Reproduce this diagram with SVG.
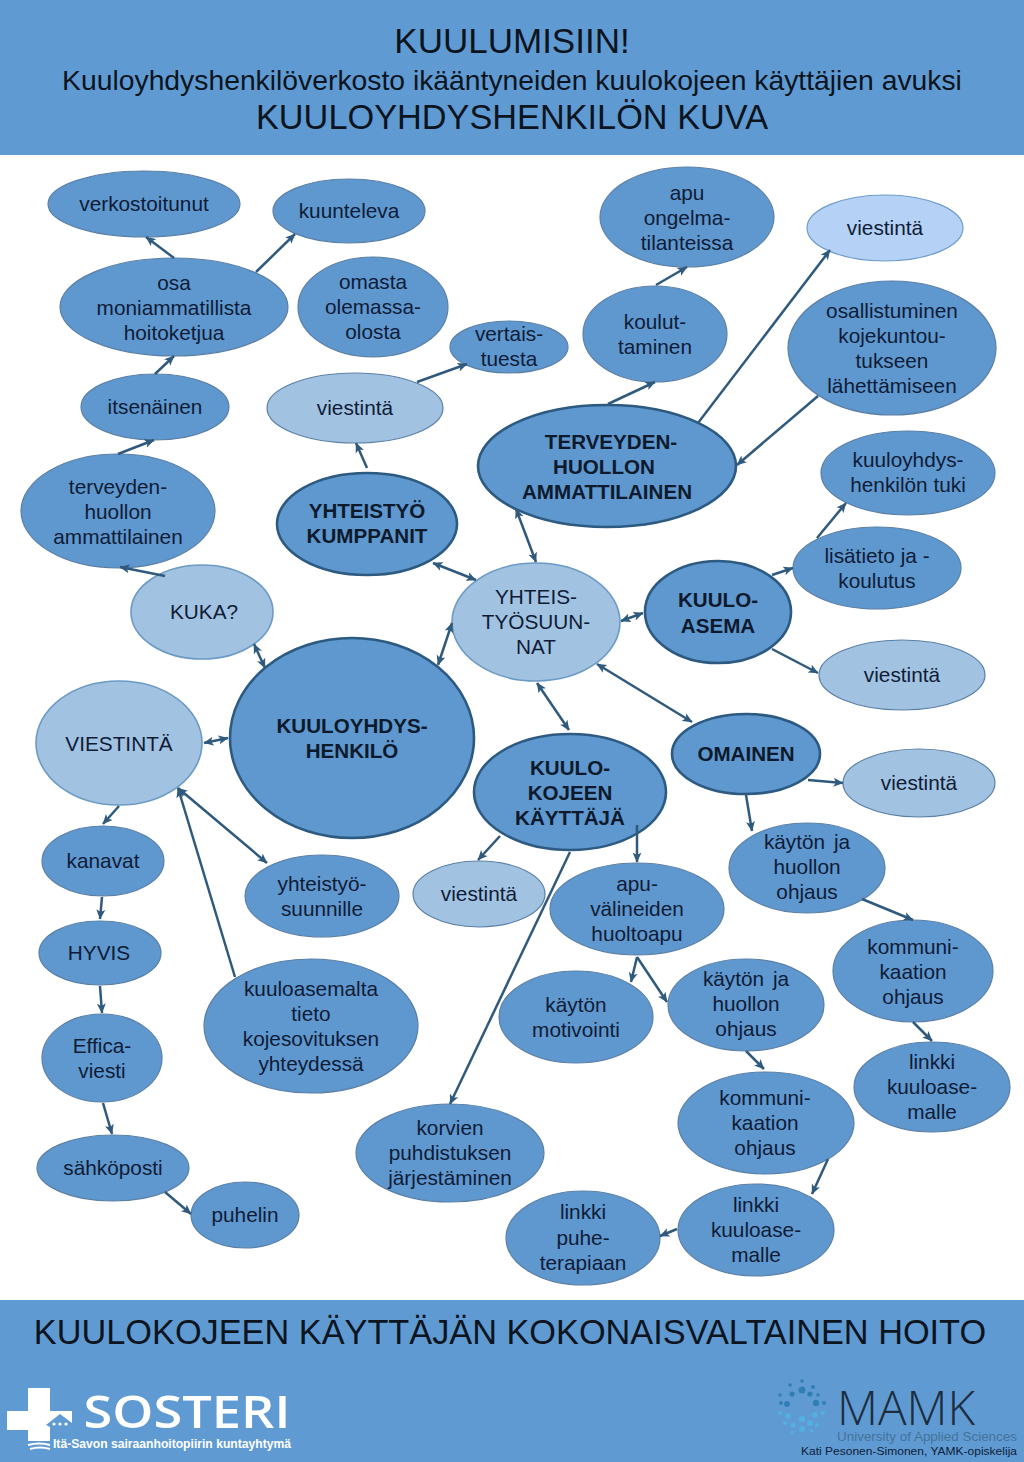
<svg xmlns="http://www.w3.org/2000/svg" width="1024" height="1462" viewBox="0 0 1024 1462">
<style>
text{font-family:"Liberation Sans",Arial,sans-serif;fill:#0e1c36;text-anchor:middle}
.t{font-size:20.8px}
.w{word-spacing:3px}
.b{font-size:20.6px;font-weight:bold;fill:#0c1a2c}
.band{fill:#5f9bd2}
.n{fill:#5f97cf;stroke:#5b80a6;stroke-width:1.2}
.d{fill:#5f97cf;stroke:#2c5a80;stroke-width:2.6}
.l{fill:#a2c2e2;stroke:#6b9ac4;stroke-width:1.6}
.v{fill:#a2c2e2;stroke:#5b80a6;stroke-width:1.2}
.l2{fill:#b6d1f6;stroke:#6b9cc8;stroke-width:1.2}
#connectors line{stroke:#2f5a7e;stroke-width:2.5;marker-end:url(#a)}
#connectors line.x{marker-start:url(#a)}
.top{fill:#0c1420}
</style>
<defs><marker id="a" viewBox="0 0 10 10" refX="9.5" refY="5" markerWidth="4" markerHeight="4" orient="auto-start-reverse" markerUnits="strokeWidth"><path d="M0 0.5L10 5L0 9.5L2.5 5z" fill="#2f5a7e"/></marker></defs>
<rect width="1024" height="1462" fill="#fff"/>
<g id="header"><rect class="band" width="1024" height="155"/>
<text class="top" x="512" y="53" font-size="35">KUULUMISIIN!</text>
<text class="top" x="512" y="90" font-size="28.3">Kuuloyhdyshenkilöverkosto ikääntyneiden kuulokojeen käyttäjien avuksi</text>
<text class="top" x="512" y="129" font-size="34.3">KUULOYHDYSHENKILÖN KUVA</text></g>
<g id="footer"><rect class="band" y="1300" width="1024" height="162"/>
<text class="top" x="510" y="1344" font-size="34.3">KUULOKOJEEN KÄYTTÄJÄN KOKONAISVALTAINEN HOITO</text>
<path d="M28 1388H50V1411H72V1430H50V1441H28V1430H7V1411H28z" fill="#fff"/>
<path d="M46 1425L60 1414L72 1423V1430H50V1427z" fill="#5f9bd2"/>
<g fill="#fff"><circle cx="54" cy="1424" r="1.6"/><circle cx="60" cy="1424" r="1.6"/><circle cx="66" cy="1424" r="1.6"/></g>
<path d="M28 1445q11 -3 22 0M30 1449q10 -3 20 0" fill="none" stroke="#fff" stroke-width="2"/>
<text x="187" y="1428" font-size="46" font-weight="600" style="font-family:'Open Sans',sans-serif;fill:#fff" textLength="207" lengthAdjust="spacingAndGlyphs">SOSTERI</text>
<text x="172" y="1448" font-size="12.5" font-weight="bold" style="fill:#fff" textLength="238" lengthAdjust="spacingAndGlyphs">Itä-Savon sairaanhoitopiirin kuntayhtymä</text>
<g fill="#2f7fb5"><circle cx="802" cy="1381" r="1.8"/><circle cx="790" cy="1385" r="1.8"/><circle cx="813" cy="1387" r="2"/><circle cx="802" cy="1390" r="3.5"/><circle cx="792" cy="1394" r="2.6"/><circle cx="810" cy="1394" r="2.6"/><circle cx="780" cy="1395" r="1.8"/><circle cx="818" cy="1395" r="1.8"/><circle cx="781" cy="1403" r="2"/><circle cx="787" cy="1404" r="3"/><circle cx="816" cy="1403" r="3.2"/><circle cx="824" cy="1403" r="2"/></g>
<g fill="#52b0e2"><circle cx="780" cy="1413" r="2"/><circle cx="788" cy="1416" r="2.8"/><circle cx="815" cy="1415" r="2.8"/><circle cx="823" cy="1413" r="2"/><circle cx="802" cy="1419" r="3.2"/><circle cx="785" cy="1423" r="2"/><circle cx="793" cy="1425" r="2.6"/><circle cx="810" cy="1423" r="3"/><circle cx="817" cy="1425" r="2"/><circle cx="802" cy="1429" r="3"/><circle cx="792" cy="1432" r="1.6"/><circle cx="812" cy="1431" r="1.6"/></g>
<text x="906" y="1425" font-size="47" font-weight="300" style="font-family:'Open Sans',sans-serif;fill:#1d2d40" textLength="138" lengthAdjust="spacingAndGlyphs">MAMK</text>
<text x="927" y="1441" font-size="13.5" style="fill:#44729c" textLength="180" lengthAdjust="spacingAndGlyphs">University of Applied Sciences</text>
<text x="909" y="1455" font-size="11.5" textLength="216" lengthAdjust="spacingAndGlyphs">Kati Pesonen-Simonen, YAMK-opiskelija</text></g>
<g id="n1"><ellipse class="n" cx="144" cy="204" rx="96" ry="33"/><text class="t" x="144" y="211">verkostoitunut</text></g>
<g id="n2"><ellipse class="n" cx="349" cy="211" rx="76" ry="32"/><text class="t" x="349" y="218">kuunteleva</text></g>
<g id="n3"><ellipse class="n" cx="174" cy="307" rx="114" ry="49"/><text class="t" x="174" y="290">osa</text><text class="t" x="174" y="315">moniammatillista</text><text class="t" x="174" y="340">hoitoketjua</text></g>
<g id="n4"><ellipse class="n" cx="373" cy="307" rx="75" ry="50"/><text class="t" x="373" y="289">omasta</text><text class="t" x="373" y="314">olemassa-</text><text class="t" x="373" y="339">olosta</text></g>
<g id="n5"><ellipse class="n" cx="509" cy="347" rx="59" ry="26"/><text class="t" x="509" y="341">vertais-</text><text class="t" x="509" y="366">tuesta</text></g>
<g id="n6"><ellipse class="v" cx="355" cy="408" rx="88" ry="35"/><text class="t" x="355" y="415">viestintä</text></g>
<g id="n7"><ellipse class="n" cx="155" cy="407" rx="74" ry="33"/><text class="t" x="155" y="414">itsenäinen</text></g>
<g id="n8"><ellipse class="n" cx="118" cy="511" rx="97" ry="57"/><text class="t" x="118" y="494">terveyden-</text><text class="t" x="118" y="519">huollon</text><text class="t" x="118" y="544">ammattilainen</text></g>
<g id="n9"><ellipse class="n" cx="687" cy="217" rx="87" ry="50"/><text class="t" x="687" y="200">apu</text><text class="t" x="687" y="225">ongelma-</text><text class="t" x="687" y="250">tilanteissa</text></g>
<g id="n10"><ellipse class="l2" cx="885" cy="228" rx="78" ry="33"/><text class="t" x="885" y="235">viestintä</text></g>
<g id="n11"><ellipse class="n" cx="655" cy="334" rx="72" ry="48"/><text class="t" x="655" y="329">koulut-</text><text class="t" x="655" y="354">taminen</text></g>
<g id="n12"><ellipse class="n" cx="892" cy="348" rx="104" ry="67"/><text class="t" x="892" y="318">osallistuminen</text><text class="t" x="892" y="343">kojekuntou-</text><text class="t" x="892" y="368">tukseen</text><text class="t" x="892" y="393">lähettämiseen</text></g>
<g id="n13"><ellipse class="d" cx="607" cy="466" rx="129" ry="61"/><text class="b" x="611" y="449">TERVEYDEN-</text><text class="b" x="604" y="474">HUOLLON</text><text class="b" x="607" y="499">AMMATTILAINEN</text></g>
<g id="n14"><ellipse class="d" cx="367" cy="524" rx="90" ry="51"/><text class="b" x="367" y="518">YHTEISTYÖ</text><text class="b" x="367" y="543">KUMPPANIT</text></g>
<g id="n15"><ellipse class="n" cx="908" cy="473" rx="87" ry="42"/><text class="t" x="908" y="467">kuuloyhdys-</text><text class="t" x="908" y="492">henkilön tuki</text></g>
<g id="n16"><ellipse class="n" cx="877" cy="568" rx="84" ry="41"/><text class="t" x="877" y="563">lisätieto ja -</text><text class="t" x="877" y="588">koulutus</text></g>
<g id="n17"><ellipse class="l" cx="202" cy="612" rx="71" ry="47"/><text class="t" x="204" y="619">KUKA?</text></g>
<g id="n18"><ellipse class="l" cx="536" cy="622" rx="84" ry="59"/><text class="t" x="536" y="604">YHTEIS-</text><text class="t" x="536" y="629">TYÖSUUN-</text><text class="t" x="536" y="654">NAT</text></g>
<g id="n19"><ellipse class="d" cx="718" cy="612" rx="73" ry="51"/><text class="b" x="718" y="607">KUULO-</text><text class="b" x="718" y="633">ASEMA</text></g>
<g id="n20"><ellipse class="v" cx="902" cy="675" rx="83" ry="35"/><text class="t" x="902" y="682">viestintä</text></g>
<g id="n21"><ellipse class="l" cx="119" cy="743" rx="83" ry="62"/><text class="t" x="119" y="751">VIESTINTÄ</text></g>
<g id="n22"><ellipse class="d" cx="352" cy="738" rx="122" ry="100"/><text class="b" x="352" y="733">KUULOYHDYS-</text><text class="b" x="352" y="758">HENKILÖ</text></g>
<g id="n23"><ellipse class="d" cx="746" cy="754" rx="74" ry="40"/><text class="b" x="746" y="761">OMAINEN</text></g>
<g id="n24"><ellipse class="v" cx="919" cy="783" rx="76" ry="34"/><text class="t" x="919" y="790">viestintä</text></g>
<g id="n25"><ellipse class="d" cx="570" cy="792" rx="96" ry="58"/><text class="b" x="570" y="775">KUULO-</text><text class="b" x="570" y="800">KOJEEN</text><text class="b" x="570" y="825">KÄYTTÄJÄ</text></g>
<g id="n26"><ellipse class="n" cx="103" cy="861" rx="61" ry="35"/><text class="t" x="103" y="868">kanavat</text></g>
<g id="n27"><ellipse class="n" cx="322" cy="896" rx="77" ry="41"/><text class="t" x="322" y="891">yhteistyö-</text><text class="t" x="322" y="916">suunnille</text></g>
<g id="n28"><ellipse class="n" cx="807" cy="868" rx="78" ry="45"/><text class="t w" x="807" y="849">käytön ja</text><text class="t" x="807" y="874">huollon</text><text class="t" x="807" y="899">ohjaus</text></g>
<g id="n29"><ellipse class="v" cx="479" cy="894" rx="66" ry="33"/><text class="t" x="479" y="901">viestintä</text></g>
<g id="n30"><ellipse class="n" cx="637" cy="909" rx="87" ry="46"/><text class="t" x="637" y="891">apu-</text><text class="t" x="637" y="916">välineiden</text><text class="t" x="637" y="941">huoltoapu</text></g>
<g id="n31"><ellipse class="n" cx="100" cy="953" rx="61" ry="32"/><text class="t" x="99" y="960">HYVIS</text></g>
<g id="n32"><ellipse class="n" cx="913" cy="971" rx="80" ry="51"/><text class="t" x="913" y="954">kommuni-</text><text class="t" x="913" y="979">kaation</text><text class="t" x="913" y="1004">ohjaus</text></g>
<g id="n33"><ellipse class="n" cx="576" cy="1017" rx="77" ry="46"/><text class="t" x="576" y="1012">käytön</text><text class="t" x="576" y="1037">motivointi</text></g>
<g id="n34"><ellipse class="n" cx="746" cy="1005" rx="78" ry="46"/><text class="t w" x="746" y="986">käytön ja</text><text class="t" x="746" y="1011">huollon</text><text class="t" x="746" y="1036">ohjaus</text></g>
<g id="n35"><ellipse class="n" cx="311" cy="1026" rx="107" ry="67"/><text class="t" x="311" y="996">kuuloasemalta</text><text class="t" x="311" y="1021">tieto</text><text class="t" x="311" y="1046">kojesovituksen</text><text class="t" x="311" y="1071">yhteydessä</text></g>
<g id="n36"><ellipse class="n" cx="102" cy="1058" rx="60" ry="44"/><text class="t" x="102" y="1053">Effica-</text><text class="t" x="102" y="1078">viesti</text></g>
<g id="n37"><ellipse class="n" cx="932" cy="1087" rx="78" ry="45"/><text class="t" x="932" y="1069">linkki</text><text class="t" x="932" y="1094">kuuloase-</text><text class="t" x="932" y="1119">malle</text></g>
<g id="n38"><ellipse class="n" cx="766" cy="1123" rx="88" ry="51"/><text class="t" x="765" y="1105">kommuni-</text><text class="t" x="765" y="1130">kaation</text><text class="t" x="765" y="1155">ohjaus</text></g>
<g id="n39"><ellipse class="n" cx="450" cy="1153" rx="94" ry="49"/><text class="t" x="450" y="1135">korvien</text><text class="t" x="450" y="1160">puhdistuksen</text><text class="t" x="450" y="1185">järjestäminen</text></g>
<g id="n40"><ellipse class="n" cx="113" cy="1168" rx="76" ry="33"/><text class="t" x="113" y="1175">sähköposti</text></g>
<g id="n41"><ellipse class="n" cx="245" cy="1215" rx="54" ry="33"/><text class="t" x="245" y="1222">puhelin</text></g>
<g id="n42"><ellipse class="n" cx="756" cy="1230" rx="78" ry="46"/><text class="t" x="756" y="1212">linkki</text><text class="t" x="756" y="1237">kuuloase-</text><text class="t" x="756" y="1262">malle</text></g>
<g id="n43"><ellipse class="n" cx="583" cy="1238" rx="77" ry="47"/><text class="t" x="583" y="1219">linkki</text><text class="t" x="583" y="1245">puhe-</text><text class="t" x="583" y="1270">terapiaan</text></g>
<g id="connectors">
<line x1="174" y1="258" x2="146" y2="237"/>
<line x1="256" y1="272" x2="295" y2="234"/>
<line x1="155" y1="374" x2="174" y2="356"/>
<line x1="118" y1="454" x2="154" y2="440"/>
<line x1="165" y1="576" x2="120" y2="567"/>
<line class="x" x1="254" y1="644" x2="265" y2="668"/>
<line x1="417" y1="382" x2="467" y2="364"/>
<line x1="367" y1="468" x2="356" y2="443"/>
<line class="x" x1="433" y1="563" x2="476" y2="580"/>
<line class="x" x1="516" y1="509" x2="536" y2="562"/>
<line x1="608" y1="404" x2="655" y2="382"/>
<line x1="656" y1="285" x2="687" y2="267"/>
<line x1="698" y1="423" x2="830" y2="250"/>
<line x1="818" y1="396" x2="737" y2="465"/>
<line x1="817" y1="538" x2="846" y2="503"/>
<line x1="772" y1="575" x2="793" y2="568"/>
<line class="x" x1="621" y1="621" x2="643" y2="613"/>
<line x1="772" y1="649" x2="818" y2="673"/>
<line class="x" x1="452" y1="623" x2="438" y2="665"/>
<line class="x" x1="537" y1="683" x2="569" y2="730"/>
<line class="x" x1="597" y1="664" x2="692" y2="722"/>
<line x1="808" y1="780" x2="843" y2="783"/>
<line x1="746" y1="795" x2="752" y2="831"/>
<line x1="862" y1="899" x2="913" y2="920"/>
<line x1="913" y1="1022" x2="932" y2="1041"/>
<line class="x" x1="204" y1="743" x2="228" y2="738"/>
<line x1="119" y1="806" x2="103" y2="824"/>
<line x1="102" y1="897" x2="100" y2="919"/>
<line x1="100" y1="986" x2="102" y2="1013"/>
<line x1="103" y1="1103" x2="112" y2="1134"/>
<line x1="165" y1="1192" x2="191" y2="1214"/>
<line class="x" x1="267" y1="863" x2="178" y2="788"/>
<line x1="235" y1="977" x2="178" y2="788"/>
<line x1="500" y1="836" x2="478" y2="860"/>
<line x1="570" y1="852" x2="450" y2="1104"/>
<line x1="637" y1="825" x2="637" y2="862"/>
<line x1="637" y1="957" x2="631" y2="982"/>
<line x1="637" y1="957" x2="667" y2="1002"/>
<line x1="746" y1="1051" x2="764" y2="1069"/>
<line x1="828" y1="1159" x2="812" y2="1194"/>
<line x1="677" y1="1229" x2="660" y2="1236"/>
</g>
</svg>
